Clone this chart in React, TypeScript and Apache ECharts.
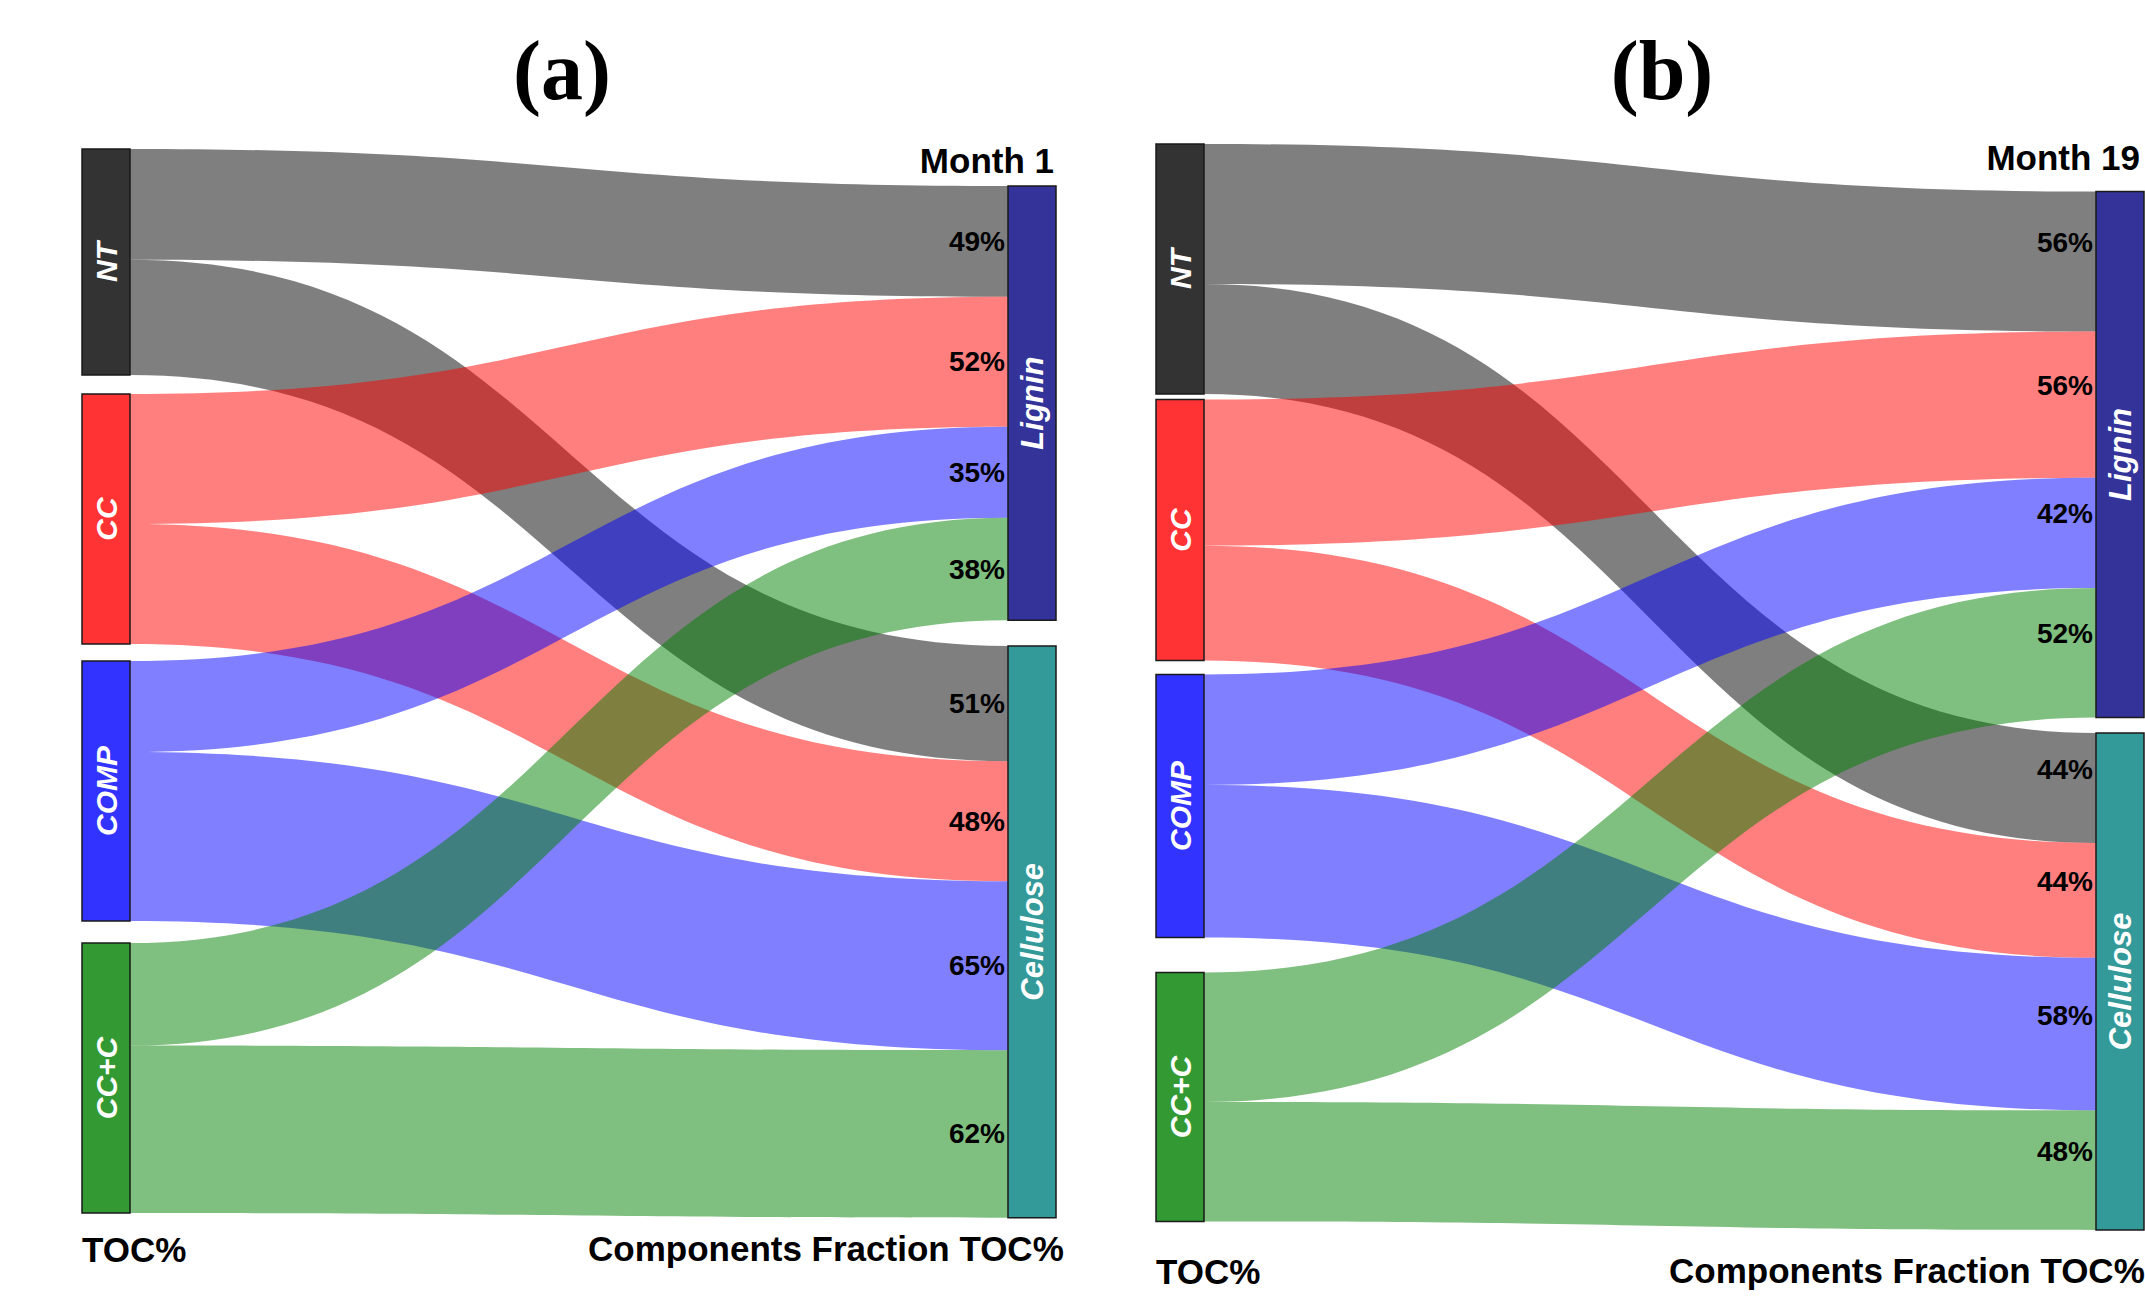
import React, { useEffect, useRef } from "react";
import * as echarts from "echarts";

// ---------------- data ----------------
const sources = ["NT", "CC", "COMP", "CC+C"];
const targets = ["Lignin", "Cellulose"];

// panel (a) – Month 1 : TOC per treatment (relative) and split into components (%)
const tocA = [22.6, 25.0, 26.0, 27.0];
const ligninPctA = [49, 52, 35, 38];
const cellulosePctA = [51, 48, 65, 62];

// panel (b) – Month 19
const tocB = [25.0, 26.1, 26.3, 24.9];
const ligninPctB = [56, 56, 42, 52];
const cellulosePctB = [44, 44, 58, 48];

// ---------------- styles ----------------
const sourceColors = ["#333333", "#FF3333", "#3333FF", "#339933"];
const linkColors = ["#000000", "#FF0000", "#0000FF", "#008000"];
const targetColors = ["#333399", "#339999"];

const SANS = "Liberation Sans, Arial, sans-serif";
const SERIF = "Liberation Serif, Times New Roman, serif";
const NODE_W = 48;
const PX_PER_UNIT = 10;

type Panel = {
  title: string;
  month: string;
  toc: number[];
  lig: number[];
  cel: number[];
  left: number;
  right: number;
  top: number;
  bottom: number;
  srcTops: number[];
  tgtTops: number[];
  titleX: number;
  monthRight: number;
  monthY: number;
  tocY: number;
  compLeft: number;
  compY: number;
  labelShift: number;
};

const panels: Panel[] = [
  {
    title: "(a)", month: "Month 1", toc: tocA, lig: ligninPctA, cel: cellulosePctA,
    left: 82, right: 1056, top: 149, bottom: 1219,
    srcTops: [149, 394, 661, 943], tgtTops: [186, 646],
    titleX: 562, monthRight: 1054, monthY: 160, tocY: 1249, compLeft: 588, compY: 1248,
    labelShift: 0,
  },
  {
    title: "(b)", month: "Month 19", toc: tocB, lig: ligninPctB, cel: cellulosePctB,
    left: 1156, right: 2144, top: 144, bottom: 1229,
    srcTops: [144, 399.5, 674.5, 972.5], tgtTops: [191.5, 733],
    titleX: 1662, monthRight: 2140, monthY: 157, tocY: 1271, compLeft: 1669, compY: 1270,
    labelShift: -19,
  },
];

function buildSeries(p: Panel) {
  const H = p.bottom - p.top;
  const sum = p.toc.reduce((a, b) => a + b, 0);
  const nodeGap = (H - PX_PER_UNIT * sum) / (sources.length - 1);
  const nodeLabel = (size: number) => ({
    show: true,
    position: "inside",
    rotate: 90,
    color: "#ffffff",
    fontSize: size,
    fontWeight: "bold",
    fontStyle: "italic",
    fontFamily: SANS,
  });
  const data = [
    ...sources.map((n, i) => ({
      name: n,
      localY: (p.srcTops[i] - p.top) / H,
      itemStyle: { color: sourceColors[i], borderColor: "#1a1a1a", borderWidth: 1.5 },
      label: nodeLabel(30),
    })),
    ...targets.map((n, i) => ({
      name: n,
      localY: (p.tgtTops[i] - p.top) / H,
      itemStyle: { color: targetColors[i], borderColor: "#1a1a1a", borderWidth: 1.5 },
      label: nodeLabel(31),
    })),
  ];
  const links: any[] = [];
  sources.forEach((s, i) => {
    links.push({ source: s, target: "Lignin", value: (p.toc[i] * p.lig[i]) / 100, lineStyle: { color: linkColors[i], opacity: 0.5 } });
    links.push({ source: s, target: "Cellulose", value: (p.toc[i] * p.cel[i]) / 100, lineStyle: { color: linkColors[i], opacity: 0.5 } });
  });
  return {
    type: "sankey",
    left: p.left,
    top: p.top,
    width: p.right - p.left,
    height: H,
    nodeWidth: NODE_W,
    nodeGap,
    layoutIterations: 0,
    nodeAlign: "justify",
    draggable: false,
    silent: true,
    emphasis: { disabled: true },
    lineStyle: { curveness: 0.5 },
    data,
    links,
  };
}

function buildGraphics(p: Panel) {
  const els: any[] = [];
  const txt = (text: string, x: number, y: number, size: number, align: string, family = SANS) => ({
    type: "text",
    x,
    y,
    z: 100,
    zlevel: 0,
    silent: true,
    style: { text, fontSize: size, fontWeight: "bold", fontFamily: family, fill: "#000000", align, verticalAlign: "middle" },
  });
  els.push(txt(p.title, p.titleX, 70, 84, "center", SERIF));
  els.push(txt(p.month, p.monthRight, p.monthY, 35, "right"));
  els.push(txt("TOC%", p.left, p.tocY, 35, "left"));
  els.push(txt("Components Fraction TOC%", p.compLeft, p.compY, 35, "left"));
  // percentage labels at the target end of each link
  const labelX = p.right - NODE_W - 3;
  [p.lig, p.cel].forEach((pcts, t) => {
    let cum = 0;
    pcts.forEach((pct, i) => {
      const v = (p.toc[i] * pct) / 100;
      const y = p.tgtTops[t] + (cum + v / 2) * PX_PER_UNIT + p.labelShift;
      cum += v;
      els.push(txt(pct + "%", labelX, y, 28, "right"));
    });
  });
  return els;
}

export default function App() {
  const ref = useRef<HTMLDivElement>(null);
  useEffect(() => {
    document.body.style.margin = "0";
    document.body.style.overflow = "hidden";
    const chart = echarts.init(ref.current!, null, { renderer: "svg" });
    chart.setOption({
      animation: false,
      backgroundColor: "#ffffff",
      series: panels.map(buildSeries),
      graphic: { elements: panels.flatMap(buildGraphics) },
    } as any);
    return () => chart.dispose();
  }, []);
  return <div ref={ref} style={{ width: 2145, height: 1297 }} />;
}
